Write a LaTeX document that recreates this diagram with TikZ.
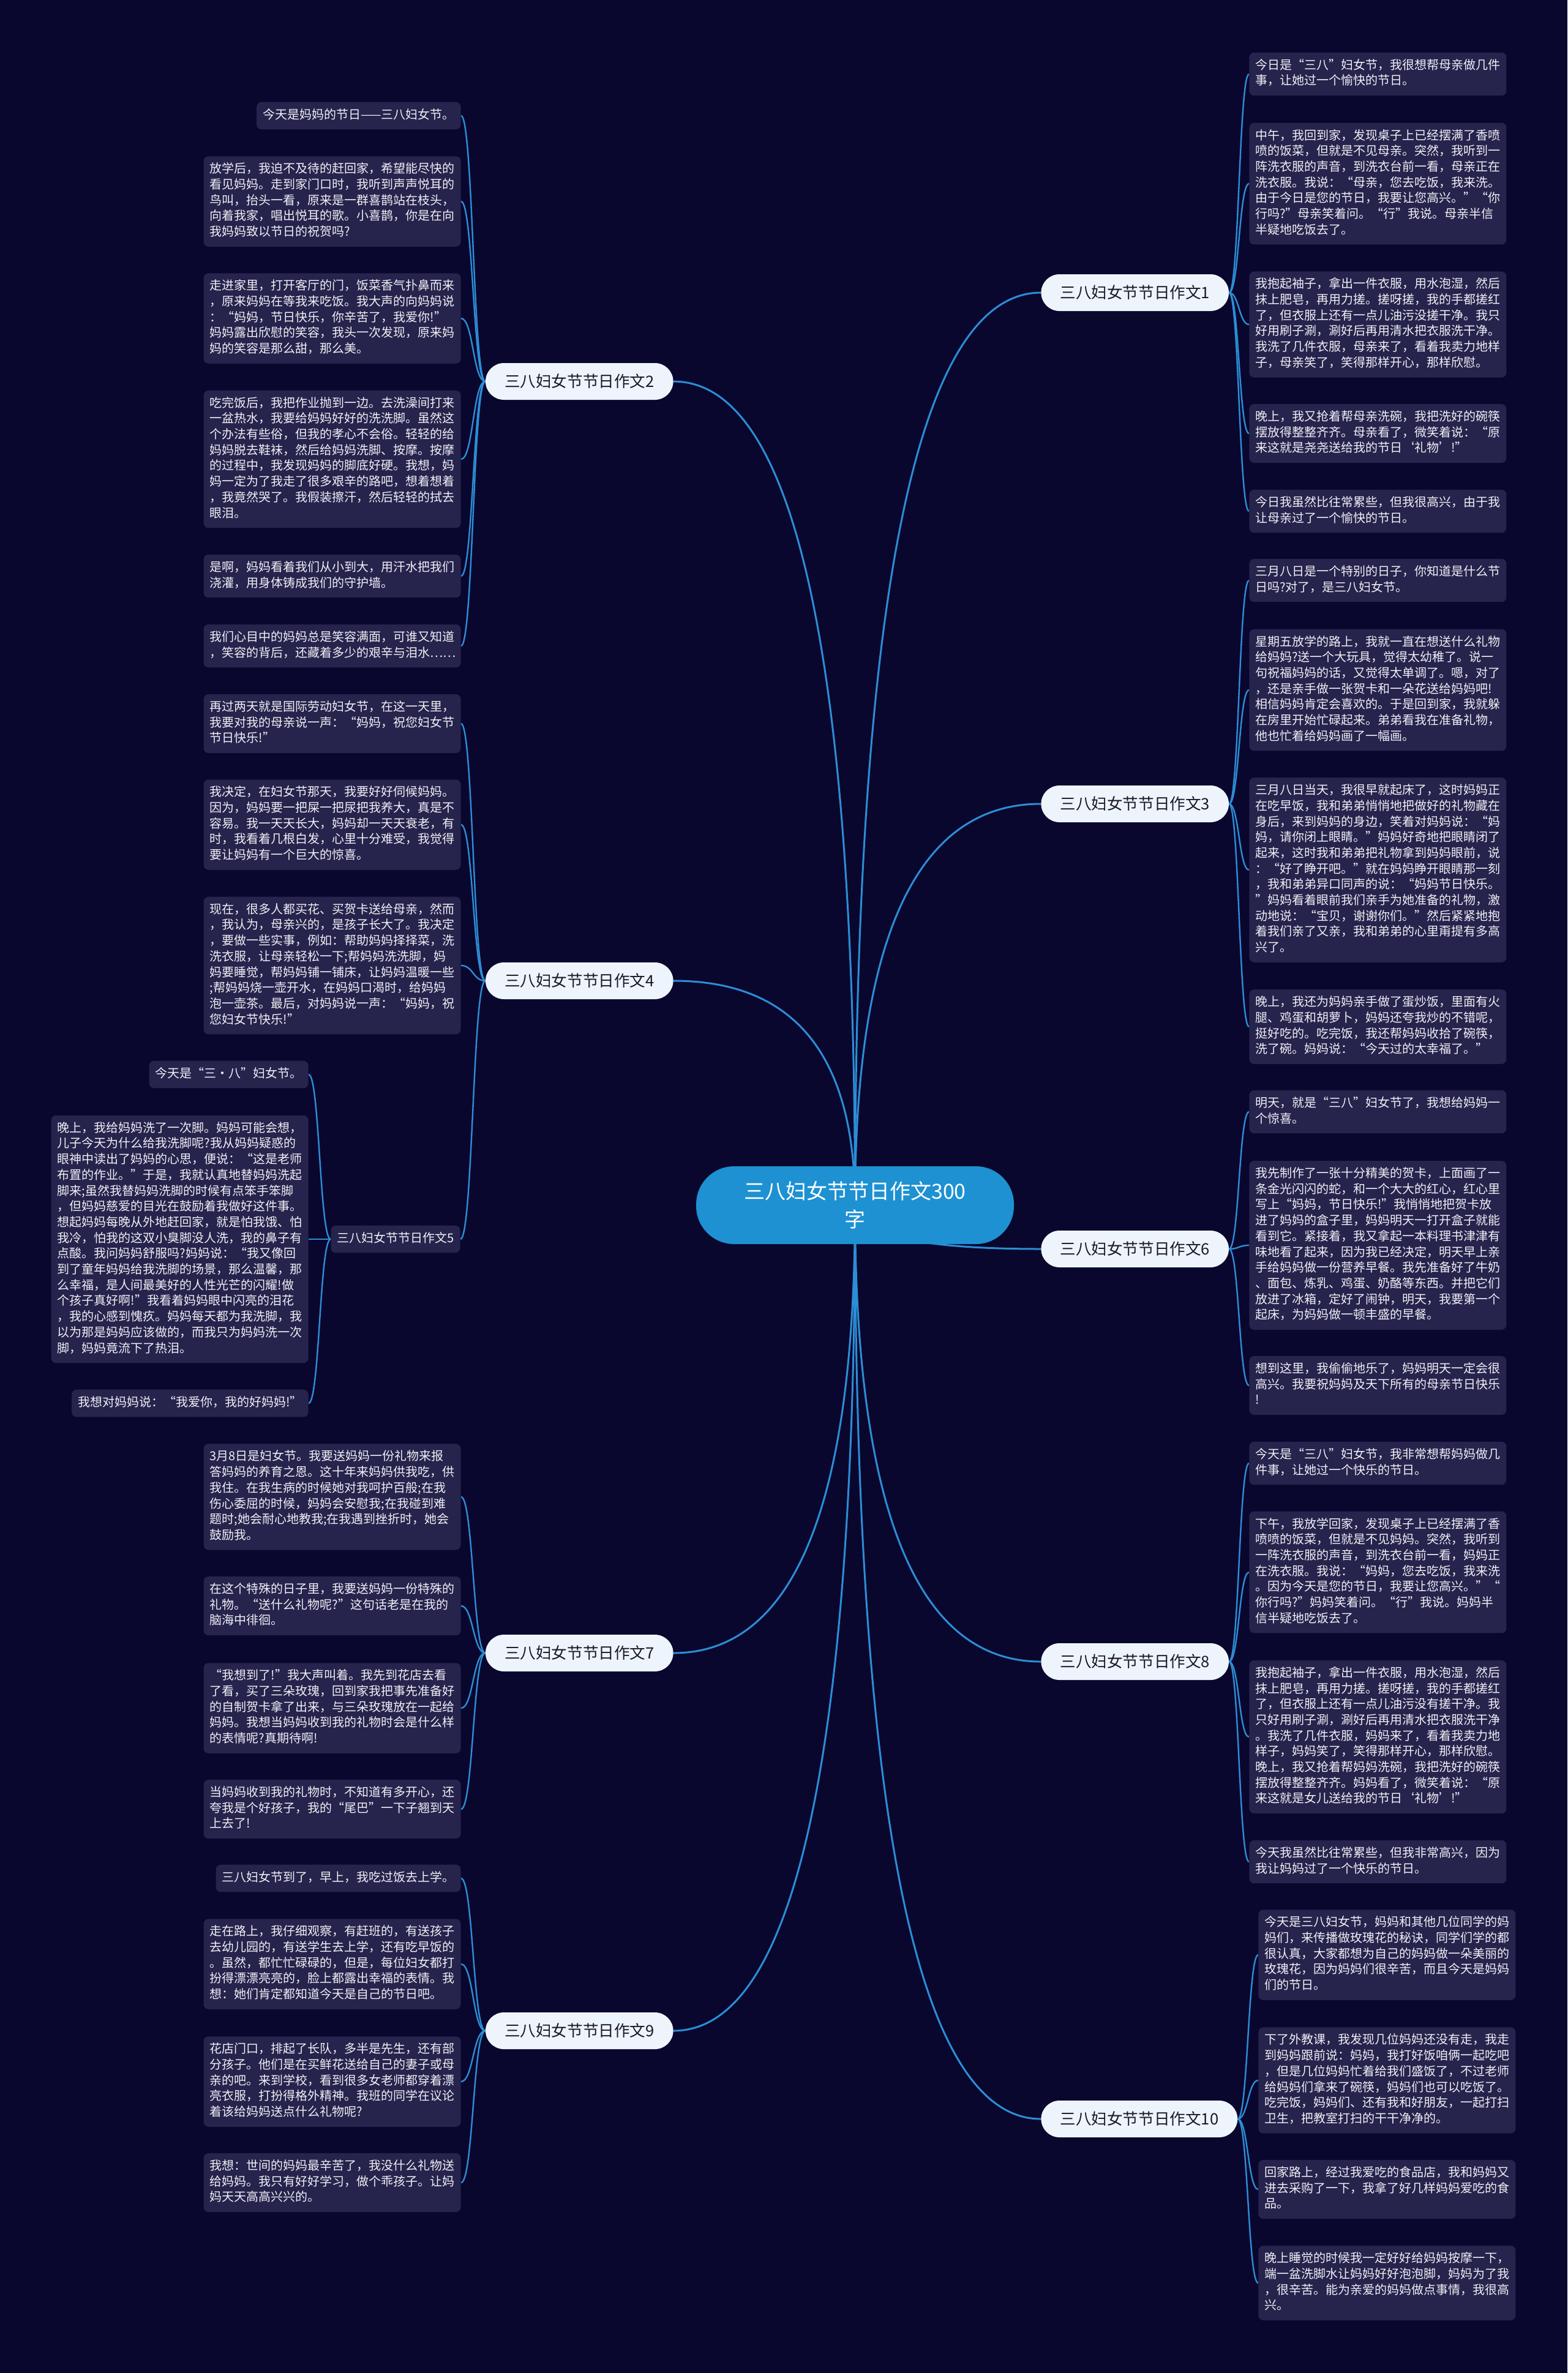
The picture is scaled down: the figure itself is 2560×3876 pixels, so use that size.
\documentclass[tikz,border=0pt]{standalone}
\usepackage{fontspec}
\setmainfont{Noto Sans CJK SC}
\usetikzlibrary{calc,backgrounds}
\definecolor{bgcol}{RGB}{10,7,46}
\definecolor{boxcol}{RGB}{38,35,76}
\definecolor{txtcol}{RGB}{240,240,246}
\definecolor{labcol}{RGB}{238,244,252}
\definecolor{labtext}{RGB}{25,25,38}
\definecolor{rootcol}{RGB}{30,145,210}
\definecolor{linkcol}{RGB}{43,142,214}
\tikzset{
  txt/.style={fill=boxcol,text=txtcol,rounded corners=4pt,inner xsep=5pt,inner ysep=4.75pt,align=left,
    font=\fontsize{10}{12.85}\selectfont,execute at begin node=\strut,execute at end node=\strut},
  txtw/.style={txt,text width=200pt},
  branch/.style={fill=labcol,text=labtext,rounded corners=15pt,minimum height=30pt,inner xsep=15.5pt,
    font=\fontsize{12.8}{15}\selectfont},
  rootnode/.style={fill=rootcol,text=white,rounded corners=31pt,minimum width=259.5pt,minimum height=63.5pt,
    align=center,font=\fontsize{17}{23}\selectfont},
  rootlink/.style={draw=linkcol,line width=1.5pt,to path={let \p1=(\tikztostart),\p2=(\tikztotarget) in
    .. controls ($(\p1)!0.667!(\x1,\y2)$) and ($(\p2)!0.667!(\x1,\y2)$) .. (\p2)}},
  boxlink/.style={draw=linkcol,line width=1.2pt,to path={let \p1=(\tikztostart),\p2=(\tikztotarget) in
    .. controls ({0.5*\x1+0.5*\x2},\y1) and ({0.5*\x1+0.5*\x2},\y2) .. (\p2)}}
}
\begin{document}
\begin{tikzpicture}[x=0.5pt,y=-0.5pt]
  \useasboundingbox (0,0) rectangle (2560,3876);
  \begin{scope}[on background layer]
    \fill[bgcol] (0,0) rectangle (2560,3876);
  \end{scope}

  \node[rootnode] (root) at (1396.5,1968.5) {三八妇女节节日作文300\\字};

  \node[branch,anchor=west] (c1) at (1700,478) {三八妇女节节日作文1};
  \node[branch,anchor=east] (c2) at (1100,623) {三八妇女节节日作文2};
  \node[branch,anchor=west] (c3) at (1700,1313) {三八妇女节节日作文3};
  \node[branch,anchor=east] (c4) at (1100,1602) {三八妇女节节日作文4};
  \node[txt,anchor=east] (c5) at (752,2024) {三八妇女节节日作文5};
  \node[branch,anchor=west] (c6) at (1700,2040) {三八妇女节节日作文6};
  \node[branch,anchor=east] (c7) at (1100,2700) {三八妇女节节日作文7};
  \node[branch,anchor=west] (c8) at (1700,2714) {三八妇女节节日作文8};
  \node[branch,anchor=east] (c9) at (1100,3317) {三八妇女节节日作文9};
  \node[branch,anchor=west] (c10) at (1700,3461) {三八妇女节节日作文10};

  \node[txt,anchor=east] (t2a) at (753,189) {今天是妈妈的节日——三八妇女节。};
  \node[txtw,anchor=east] (t2b) at (753,329) {放学后，我迫不及待的赶回家，希望能尽快的\\看见妈妈。走到家门口时，我听到声声悦耳的\\鸟叫，抬头一看，原来是一群喜鹊站在枝头，\\向着我家，唱出悦耳的歌。小喜鹊，你是在向\\我妈妈致以节日的祝贺吗?};
  \node[txtw,anchor=east] (t2c) at (753,520) {走进家里，打开客厅的门，饭菜香气扑鼻而来\\，原来妈妈在等我来吃饭。我大声的向妈妈说\\：“妈妈，节日快乐，你辛苦了，我爱你!”\\妈妈露出欣慰的笑容，我头一次发现，原来妈\\妈的笑容是那么甜，那么美。};
  \node[txtw,anchor=east] (t2d) at (753,750) {吃完饭后，我把作业抛到一边。去洗澡间打来\\一盆热水，我要给妈妈好好的洗洗脚。虽然这\\个办法有些俗，但我的孝心不会俗。轻轻的给\\妈妈脱去鞋袜，然后给妈妈洗脚、按摩。按摩\\的过程中，我发现妈妈的脚底好硬。我想，妈\\妈一定为了我走了很多艰辛的路吧，想着想着\\，我竟然哭了。我假装擦汗，然后轻轻的拭去\\眼泪。};
  \node[txtw,anchor=east] (t2e) at (753,941) {是啊，妈妈看着我们从小到大，用汗水把我们\\浇灌，用身体铸成我们的守护墙。};
  \node[txtw,anchor=east] (t2f) at (753,1055) {我们心目中的妈妈总是笑容满面，可谁又知道\\，笑容的背后，还藏着多少的艰辛与泪水……};

  \node[txtw,anchor=east] (t4a) at (753,1182) {再过两天就是国际劳动妇女节，在这一天里，\\我要对我的母亲说一声：“妈妈，祝您妇女节\\节日快乐!”};
  \node[txtw,anchor=east] (t4b) at (753,1347) {我决定，在妇女节那天，我要好好伺候妈妈。\\因为，妈妈要一把屎一把尿把我养大，真是不\\容易。我一天天长大，妈妈却一天天衰老，有\\时，我看着几根白发，心里十分难受，我觉得\\要让妈妈有一个巨大的惊喜。};
  \node[txtw,anchor=east] (t4c) at (753,1577) {现在，很多人都买花、买贺卡送给母亲，然而\\，我认为，母亲兴的，是孩子长大了。我决定\\，要做一些实事，例如：帮助妈妈择择菜，洗\\洗衣服，让母亲轻松一下;帮妈妈洗洗脚，妈\\妈要睡觉，帮妈妈铺一铺床，让妈妈温暖一些\\;帮妈妈烧一壶开水，在妈妈口渴时，给妈妈\\泡一壶茶。最后，对妈妈说一声：“妈妈，祝\\您妇女节快乐!”};

  \node[txt,anchor=east] (t5a) at (504,1755) {今天是“三·八”妇女节。};
  \node[txtw,anchor=east] (t5b) at (504,2024) {晚上，我给妈妈洗了一次脚。妈妈可能会想，\\儿子今天为什么给我洗脚呢?我从妈妈疑惑的\\眼神中读出了妈妈的心思，便说：“这是老师\\布置的作业。”于是，我就认真地替妈妈洗起\\脚来;虽然我替妈妈洗脚的时候有点笨手笨脚\\，但妈妈慈爱的目光在鼓励着我做好这件事。\\想起妈妈每晚从外地赶回家，就是怕我饿、怕\\我冷，怕我的这双小臭脚没人洗，我的鼻子有\\点酸。我问妈妈舒服吗?妈妈说：“我又像回\\到了童年妈妈给我洗脚的场景，那么温馨，那\\么幸福，是人间最美好的人性光芒的闪耀!做\\个孩子真好啊!”我看着妈妈眼中闪亮的泪花\\，我的心感到愧疚。妈妈每天都为我洗脚，我\\以为那是妈妈应该做的，而我只为妈妈洗一次\\脚，妈妈竟流下了热泪。};
  \node[txt,anchor=east] (t5c) at (504,2292) {我想对妈妈说：“我爱你，我的好妈妈!”};

  \node[txtw,anchor=east] (t7a) at (753,2445) {3月8日是妇女节。我要送妈妈一份礼物来报\\答妈妈的养育之恩。这十年来妈妈供我吃，供\\我住。在我生病的时候她对我呵护百般;在我\\伤心委屈的时候，妈妈会安慰我;在我碰到难\\题时;她会耐心地教我;在我遇到挫折时，她会\\鼓励我。};
  \node[txtw,anchor=east] (t7b) at (753,2623) {在这个特殊的日子里，我要送妈妈一份特殊的\\礼物。“送什么礼物呢?”这句话老是在我的\\脑海中徘徊。};
  \node[txtw,anchor=east] (t7c) at (753,2790) {“我想到了!”我大声叫着。我先到花店去看\\了看，买了三朵玫瑰，回到家我把事先准备好\\的自制贺卡拿了出来，与三朵玫瑰放在一起给\\妈妈。我想当妈妈收到我的礼物时会是什么样\\的表情呢?真期待啊!};
  \node[txtw,anchor=east] (t7d) at (753,2955) {当妈妈收到我的礼物时，不知道有多开心，还\\夸我是个好孩子，我的“尾巴”一下子翘到天\\上去了!};

  \node[txt,anchor=east] (t9a) at (753,3068) {三八妇女节到了，早上，我吃过饭去上学。};
  \node[txtw,anchor=east] (t9b) at (753,3208) {走在路上，我仔细观察，有赶班的，有送孩子\\去幼儿园的，有送学生去上学，还有吃早饭的\\。虽然，都忙忙碌碌的，但是，每位妇女都打\\扮得漂漂亮亮的，脸上都露出幸福的表情。我\\想：她们肯定都知道今天是自己的节日吧。};
  \node[txtw,anchor=east] (t9c) at (753,3400) {花店门口，排起了长队，多半是先生，还有部\\分孩子。他们是在买鲜花送给自己的妻子或母\\亲的吧。来到学校，看到很多女老师都穿着漂\\亮衣服，打扮得格外精神。我班的同学在议论\\着该给妈妈送点什么礼物呢?};
  \node[txtw,anchor=east] (t9d) at (753,3565) {我想：世间的妈妈最辛苦了，我没什么礼物送\\给妈妈。我只有好好学习，做个乖孩子。让妈\\妈天天高高兴兴的。};

  \node[txtw,anchor=west] (t1a) at (2040,121) {今日是“三八”妇女节，我很想帮母亲做几件\\事，让她过一个愉快的节日。};
  \node[txtw,anchor=west] (t1b) at (2040,300) {中午，我回到家，发现桌子上已经摆满了香喷\\喷的饭菜，但就是不见母亲。突然，我听到一\\阵洗衣服的声音，到洗衣台前一看，母亲正在\\洗衣服。我说：“母亲，您去吃饭，我来洗。\\由于今日是您的节日，我要让您高兴。”“你\\行吗?”母亲笑着问。“行”我说。母亲半信\\半疑地吃饭去了。};
  \node[txtw,anchor=west] (t1c) at (2040,530) {我抱起袖子，拿出一件衣服，用水泡湿，然后\\抹上肥皂，再用力搓。搓呀搓，我的手都搓红\\了，但衣服上还有一点儿油污没搓干净。我只\\好用刷子涮，涮好后再用清水把衣服洗干净。\\我洗了几件衣服，母亲来了，看着我卖力地样\\子，母亲笑了，笑得那样开心，那样欣慰。};
  \node[txtw,anchor=west] (t1d) at (2040,708) {晚上，我又抢着帮母亲洗碗，我把洗好的碗筷\\摆放得整整齐齐。母亲看了，微笑着说：“原\\来这就是尧尧送给我的节日‘礼物’!”};
  \node[txtw,anchor=west] (t1e) at (2040,835) {今日我虽然比往常累些，但我很高兴，由于我\\让母亲过了一个愉快的节日。};

  \node[txtw,anchor=west] (t3a) at (2040,948) {三月八日是一个特别的日子，你知道是什么节\\日吗?对了，是三八妇女节。};
  \node[txtw,anchor=west] (t3b) at (2040,1127) {星期五放学的路上，我就一直在想送什么礼物\\给妈妈?送一个大玩具，觉得太幼稚了。说一\\句祝福妈妈的话，又觉得太单调了。嗯，对了\\，还是亲手做一张贺卡和一朵花送给妈妈吧!\\相信妈妈肯定会喜欢的。于是回到家，我就躲\\在房里开始忙碌起来。弟弟看我在准备礼物，\\他也忙着给妈妈画了一幅画。};
  \node[txtw,anchor=west] (t3c) at (2040,1421) {三月八日当天，我很早就起床了，这时妈妈正\\在吃早饭，我和弟弟悄悄地把做好的礼物藏在\\身后，来到妈妈的身边，笑着对妈妈说：“妈\\妈，请你闭上眼睛。”妈妈好奇地把眼睛闭了\\起来，这时我和弟弟把礼物拿到妈妈眼前，说\\：“好了睁开吧。”就在妈妈睁开眼睛那一刻\\，我和弟弟异口同声的说：“妈妈节日快乐。\\”妈妈看着眼前我们亲手为她准备的礼物，激\\动地说：“宝贝，谢谢你们。”然后紧紧地抱\\着我们亲了又亲，我和弟弟的心里甭提有多高\\兴了。};
  \node[txtw,anchor=west] (t3d) at (2040,1677) {晚上，我还为妈妈亲手做了蛋炒饭，里面有火\\腿、鸡蛋和胡萝卜，妈妈还夸我炒的不错呢，\\挺好吃的。吃完饭，我还帮妈妈收拾了碗筷，\\洗了碗。妈妈说：“今天过的太幸福了。”};

  \node[txtw,anchor=west] (t6a) at (2040,1816) {明天，就是“三八”妇女节了，我想给妈妈一\\个惊喜。};
  \node[txtw,anchor=west] (t6b) at (2040,2034) {我先制作了一张十分精美的贺卡，上面画了一\\条金光闪闪的蛇，和一个大大的红心，红心里\\写上“妈妈，节日快乐!”我悄悄地把贺卡放\\进了妈妈的盒子里，妈妈明天一打开盒子就能\\看到它。紧接着，我又拿起一本料理书津津有\\味地看了起来，因为我已经决定，明天早上亲\\手给妈妈做一份营养早餐。我先准备好了牛奶\\、面包、炼乳、鸡蛋、奶酪等东西。并把它们\\放进了冰箱，定好了闹钟，明天，我要第一个\\起床，为妈妈做一顿丰盛的早餐。};
  \node[txtw,anchor=west] (t6c) at (2040,2263) {想到这里，我偷偷地乐了，妈妈明天一定会很\\高兴。我要祝妈妈及天下所有的母亲节日快乐\\!};

  \node[txtw,anchor=west] (t8a) at (2040,2390) {今天是“三八”妇女节，我非常想帮妈妈做几\\件事，让她过一个快乐的节日。};
  \node[txtw,anchor=west] (t8b) at (2040,2568) {下午，我放学回家，发现桌子上已经摆满了香\\喷喷的饭菜，但就是不见妈妈。突然，我听到\\一阵洗衣服的声音，到洗衣台前一看，妈妈正\\在洗衣服。我说：“妈妈，您去吃饭，我来洗\\。因为今天是您的节日，我要让您高兴。”“\\你行吗?”妈妈笑着问。“行”我说。妈妈半\\信半疑地吃饭去了。};
  \node[txtw,anchor=west] (t8c) at (2040,2837) {我抱起袖子，拿出一件衣服，用水泡湿，然后\\抹上肥皂，再用力搓。搓呀搓，我的手都搓红\\了，但衣服上还有一点儿油污没有搓干净。我\\只好用刷子涮，涮好后再用清水把衣服洗干净\\。我洗了几件衣服，妈妈来了，看着我卖力地\\样子，妈妈笑了，笑得那样开心，那样欣慰。\\晚上，我又抢着帮妈妈洗碗，我把洗好的碗筷\\摆放得整整齐齐。妈妈看了，微笑着说：“原\\来这就是女儿送给我的节日‘礼物’!”};
  \node[txtw,anchor=west] (t8d) at (2040,3041) {今天我虽然比往常累些，但我非常高兴，因为\\我让妈妈过了一个快乐的节日。};

  \node[txtw,anchor=west] (t10a) at (2055,3193) {今天是三八妇女节，妈妈和其他几位同学的妈\\妈们，来传播做玫瑰花的秘诀，同学们学的都\\很认真，大家都想为自己的妈妈做一朵美丽的\\玫瑰花，因为妈妈们很辛苦，而且今天是妈妈\\们的节日。};
  \node[txtw,anchor=west] (t10b) at (2055,3398) {下了外教课，我发现几位妈妈还没有走，我走\\到妈妈跟前说：妈妈，我打好饭咱俩一起吃吧\\，但是几位妈妈忙着给我们盛饭了，不过老师\\给妈妈们拿来了碗筷，妈妈们也可以吃饭了。\\吃完饭，妈妈们、还有我和好朋友，一起打扫\\卫生，把教室打扫的干干净净的。};
  \node[txtw,anchor=west] (t10c) at (2055,3576) {回家路上，经过我爱吃的食品店，我和妈妈又\\进去采购了一下，我拿了好几样妈妈爱吃的食\\品。};
  \node[txtw,anchor=west] (t10d) at (2055,3729) {晚上睡觉的时候我一定好好给妈妈按摩一下，\\端一盆洗脚水让妈妈好好泡泡脚，妈妈为了我\\，很辛苦。能为亲爱的妈妈做点事情，我很高\\兴。};

  \begin{scope}[on background layer]
    \draw[rootlink] (root.center) to (c1.west);
    \draw[rootlink] (root.center) to (c2.east);
    \draw[rootlink] (root.center) to (c3.west);
    \draw[rootlink] (root.center) to (c4.east);
    \draw[rootlink] (root.center) to (c6.west);
    \draw[rootlink] (root.center) to (c7.east);
    \draw[rootlink] (root.center) to (c8.west);
    \draw[rootlink] (root.center) to (c9.east);
    \draw[rootlink] (root.center) to (c10.west);

    \draw[boxlink] (c2.west) to (t2a.east);
    \draw[boxlink] (c2.west) to (t2b.east);
    \draw[boxlink] (c2.west) to (t2c.east);
    \draw[boxlink] (c2.west) to (t2d.east);
    \draw[boxlink] (c2.west) to (t2e.east);
    \draw[boxlink] (c2.west) to (t2f.east);
    \draw[boxlink] (c4.west) to (t4a.east);
    \draw[boxlink] (c4.west) to (t4b.east);
    \draw[boxlink] (c4.west) to (t4c.east);
    \draw[boxlink] (c4.west) to (c5.east);
    \draw[boxlink] (c5.west) to (t5a.east);
    \draw[boxlink] (c5.west) to (t5b.east);
    \draw[boxlink] (c5.west) to (t5c.east);
    \draw[boxlink] (c7.west) to (t7a.east);
    \draw[boxlink] (c7.west) to (t7b.east);
    \draw[boxlink] (c7.west) to (t7c.east);
    \draw[boxlink] (c7.west) to (t7d.east);
    \draw[boxlink] (c9.west) to (t9a.east);
    \draw[boxlink] (c9.west) to (t9b.east);
    \draw[boxlink] (c9.west) to (t9c.east);
    \draw[boxlink] (c9.west) to (t9d.east);

    \draw[boxlink] (c1.east) to (t1a.west);
    \draw[boxlink] (c1.east) to (t1b.west);
    \draw[boxlink] (c1.east) to (t1c.west);
    \draw[boxlink] (c1.east) to (t1d.west);
    \draw[boxlink] (c1.east) to (t1e.west);
    \draw[boxlink] (c3.east) to (t3a.west);
    \draw[boxlink] (c3.east) to (t3b.west);
    \draw[boxlink] (c3.east) to (t3c.west);
    \draw[boxlink] (c3.east) to (t3d.west);
    \draw[boxlink] (c6.east) to (t6a.west);
    \draw[boxlink] (c6.east) to (t6b.west);
    \draw[boxlink] (c6.east) to (t6c.west);
    \draw[boxlink] (c8.east) to (t8a.west);
    \draw[boxlink] (c8.east) to (t8b.west);
    \draw[boxlink] (c8.east) to (t8c.west);
    \draw[boxlink] (c8.east) to (t8d.west);
    \draw[boxlink] (c10.east) to (t10a.west);
    \draw[boxlink] (c10.east) to (t10b.west);
    \draw[boxlink] (c10.east) to (t10c.west);
    \draw[boxlink] (c10.east) to (t10d.west);
  \end{scope}
\end{tikzpicture}
\end{document}
